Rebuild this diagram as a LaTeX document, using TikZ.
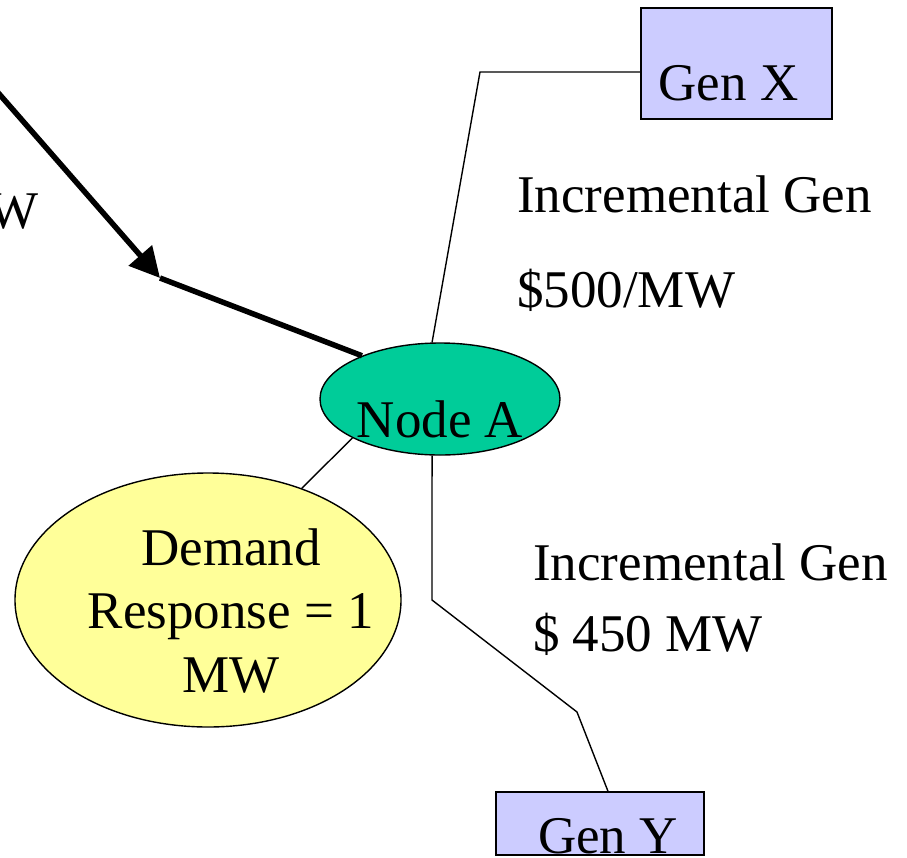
\documentclass[tikz,border=0pt]{standalone}
\usepackage{fontspec}
\setmainfont{Liberation Serif}
\usetikzlibrary{arrows.meta,shapes.geometric}
\definecolor{genfill}{HTML}{CCCCFF}
\definecolor{nodefill}{HTML}{00CC99}
\definecolor{demandfill}{HTML}{FFFF99}
\tikzset{
  big/.style={font=\fontsize{53}{63.5}\selectfont},
  genbox/.style={draw=black, line width=1.4pt, fill=genfill, rectangle, inner sep=0pt, big},
  busnode/.style={draw=black, line width=1.4pt, fill=nodefill, ellipse, inner sep=0pt, big},
  demandnode/.style={draw=black, line width=1.4pt, fill=demandfill, ellipse, inner sep=0pt},
  wire/.style={draw=black, line width=1.4pt},
  flow/.style={draw=black, line width=5.5pt},
  plain/.style={inner sep=0pt, big}
}
\begin{document}
\begin{tikzpicture}[x=1pt, y=-1pt]
\useasboundingbox (0,0) rectangle (907,857);

% generators and buses
\node[genbox, minimum width=191pt, minimum height=111pt, text height=73pt, text depth=0pt]
  (genX) at (736.5,63.5) {Gen X\hspace*{16pt}};
\node[genbox, minimum width=208pt, minimum height=63pt, text height=59pt, text depth=0pt]
  (genY) at (600,823.5) {\hspace*{16pt}Gen Y};
\node[busnode, minimum width=240pt, minimum height=112pt, text height=76pt, text depth=0pt]
  (nodeA) at (440,399) {Node A};
\node[demandnode, minimum width=386pt, minimum height=254pt] (demand) at (208,600) {};
\node[plain, align=center] (demandtxt) at (231,611)
  {Demand\\Response = 1\\MW};

% incoming power flow
\coordinate (flowin) at (-20,72);
\coordinate (flowmid) at (160,278);
\draw[flow, -{Triangle[length=30pt,width=30pt]}] (flowin) -- (flowmid);
\draw[flow] (flowmid) -- (nodeA.151);
\node[plain, anchor=base east] (wlabel) at (39,228) {W};

% connections
\coordinate (xbend) at (480,72);
\draw[wire] (nodeA.98) -- (xbend) -- (xbend -| genX.west);
\coordinate (ybend1) at (432,600);
\coordinate (ybend2) at (577,712);
\draw[wire] (nodeA.262) -- (ybend1) -- (ybend2) -- ([xshift=8pt]genY.north);
\draw[wire] (demand.50) -- (nodeA.204);

% cost labels
\node[plain, anchor=base west] (incX) at (517,212) {Incremental Gen};
\node[plain, anchor=base west] (costX) at (517,307) {\$500/MW};
\node[plain, anchor=base west] (incY) at (533,580) {Incremental Gen};
\node[plain, anchor=base west] (costY) at (533,651) {\$ 450 MW};
\end{tikzpicture}
\end{document}
